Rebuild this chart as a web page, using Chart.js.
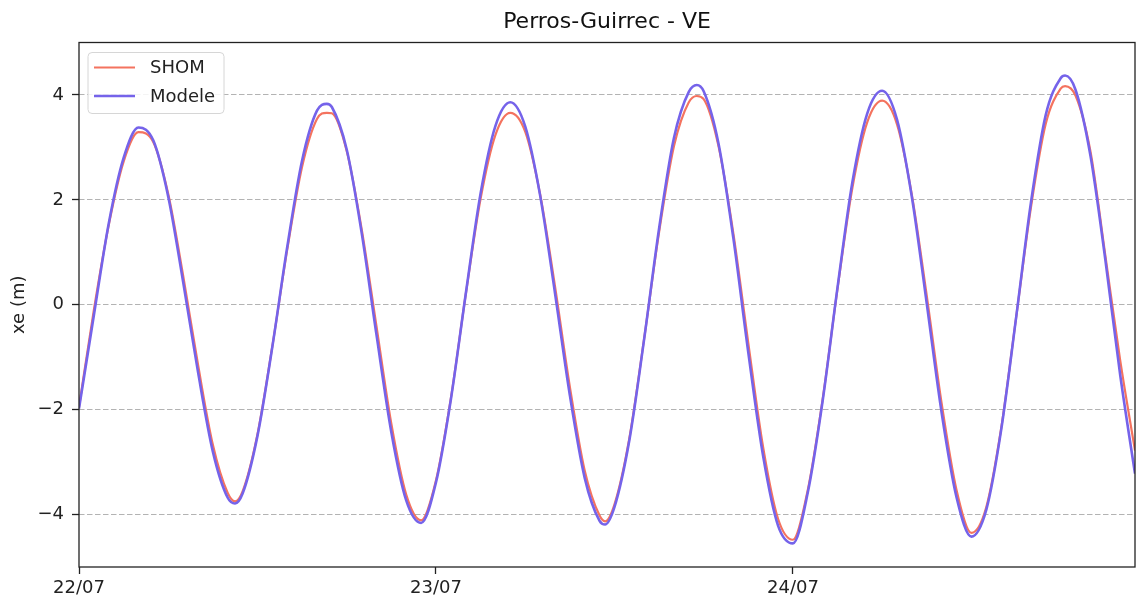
<!DOCTYPE html>
<html>
<head>
<meta charset="utf-8">
<title>Perros-Guirrec - VE</title>
<script src="https://cdn.jsdelivr.net/npm/chart.js@4.4.1/dist/chart.umd.min.js"></script>
<style>
  html, body { margin: 0; padding: 0; background: #ffffff; }
  #wrap { width: 1138px; height: 602px; }
</style>
</head>
<body>
<div id="wrap"><canvas id="c" width="1138" height="602"></canvas></div>
<script>
// Time in hours since 22/07 00:00
const hours = [
  0, 1, 2, 3, 4, 5, 6, 7, 8, 9, 10, 10.49, 11, 12, 13, 14, 15, 16, 16.66, 17,
  18, 19, 20, 21, 22, 23, 24, 25, 26, 27, 28, 29, 30, 31, 32, 33, 34, 35, 35.37, 36,
  37, 38, 39, 40, 41, 41.54, 42, 43, 44, 45, 46, 47, 48, 49, 50, 51, 52, 53, 54, 55,
  56, 57, 58, 59, 60, 61, 62, 63, 64, 65, 66, 66.3, 67, 68, 69, 70, 71
];

// Water level (m), SHOM reference
const shom = [
  -1.95, -0.10, 1.52, 2.73, 3.29, 3.10, 2.11, 0.56, -1.14, -2.67, -3.59, -3.75, -3.56, -2.47, -0.79, 1.05, 2.63, 3.54, 3.66, 3.65,
  2.93, 1.45, -0.41, -2.27, -3.62, -4.11, -3.35, -1.79, 0.19, 2.02, 3.24, 3.66, 3.30, 2.11, 0.36, -1.56, -3.16, -4.02, -4.13, -3.81,
  -2.55, -0.64, 1.38, 3.02, 3.86, 3.98, 3.92, 3.02, 1.35, -0.73, -2.72, -4.08, -4.48, -3.53, -1.80, 0.31, 2.23, 3.48, 3.89, 3.44,
  2.09, 0.17, -1.88, -3.53, -4.35, -3.86, -2.36, -0.26, 1.85, 3.45, 4.12, 4.17, 3.99, 2.93, 0.95, -1.05, -2.78
];

// Water level (m), model output
const modele = [
  -1.98, -0.20, 1.55, 2.80, 3.38, 3.13, 2.06, 0.44, -1.28, -2.80, -3.68, -3.79, -3.60, -2.50, -0.80, 1.10, 2.75, 3.70, 3.83, 3.77,
  2.96, 1.38, -0.57, -2.43, -3.73, -4.16, -3.39, -1.81, 0.20, 2.12, 3.41, 3.86, 3.40, 2.09, 0.23, -1.72, -3.30, -4.12, -4.19, -3.86,
  -2.59, -0.65, 1.45, 3.18, 4.06, 4.19, 4.07, 3.07, 1.26, -0.91, -2.89, -4.21, -4.55, -3.58, -1.83, 0.33, 2.34, 3.65, 4.08, 3.53,
  2.05, 0.02, -2.06, -3.67, -4.42, -3.91, -2.39, -0.26, 1.94, 3.62, 4.32, 4.37, 4.10, 2.85, 0.87, -1.33, -3.22
];

const dayTicks = [0, 24, 48];
const dayLabels = ['22/07', '23/07', '24/07'];
const levelTicks = [-4, -2, 0, 2, 4];
const chartTitle = 'Perros-Guirrec - VE';

const FONT = "'DejaVu Sans', sans-serif";
const COLOR_SHOM = '#f4735f';
const COLOR_MODELE = '#7563ea';

const toPoints = (ys) => hours.map((h, i) => ({ x: h, y: ys[i] }));
const fmtNum = (v) => (v < 0 ? '\u2212' + Math.abs(v) : String(v));

// Box around the plotting area and the title centred above it
const frame = {
  id: 'frame',
  afterDatasetsDraw(chart) {
    const { ctx, chartArea: a } = chart;
    ctx.save();
    ctx.strokeStyle = '#222';
    ctx.lineWidth = 1.3;
    ctx.strokeRect(a.left, a.top, a.right - a.left, a.bottom - a.top);
    ctx.fillStyle = '#111';
    ctx.font = '22px ' + FONT;
    ctx.textAlign = 'center';
    ctx.textBaseline = 'middle';
    ctx.fillText(chartTitle, (a.left + a.right) / 2, a.top - 20);
    ctx.restore();
  }
};

// Legend drawn inside the upper-left corner of the plotting area
const insideLegend = {
  id: 'insideLegend',
  afterDraw(chart) {
    const { ctx, chartArea: a } = chart;
    const x0 = a.left + 9, y0 = a.top + 10, w = 136, h = 61;
    ctx.save();
    ctx.beginPath();
    ctx.roundRect(x0, y0, w, h, 4);
    ctx.fillStyle = 'rgba(255,255,255,0.85)';
    ctx.fill();
    ctx.strokeStyle = '#d6d6d6';
    ctx.lineWidth = 1;
    ctx.stroke();
    ctx.font = '18px ' + FONT;
    ctx.textBaseline = 'middle';
    ctx.fillStyle = '#222';
    const rowH = 28.5;
    chart.data.datasets.forEach((ds, i) => {
      const y = y0 + 15 + i * rowH;
      ctx.strokeStyle = ds.borderColor;
      ctx.lineWidth = ds.borderWidth;
      ctx.beginPath();
      ctx.moveTo(x0 + 6, y);
      ctx.lineTo(x0 + 47, y);
      ctx.stroke();
      ctx.fillText(ds.label, x0 + 62, y + 1);
    });
    ctx.restore();
  }
};

new Chart(document.getElementById('c'), {
  type: 'line',
  data: {
    datasets: [
      {
        label: 'SHOM',
        data: toPoints(shom),
        borderColor: COLOR_SHOM,
        borderWidth: 2.2,
        pointRadius: 0,
        cubicInterpolationMode: 'monotone',
        order: 2
      },
      {
        label: 'Modele',
        data: toPoints(modele),
        borderColor: COLOR_MODELE,
        borderWidth: 2.6,
        pointRadius: 0,
        cubicInterpolationMode: 'monotone',
        order: 1
      }
    ]
  },
  options: {
    responsive: false,
    animation: false,
    devicePixelRatio: 1,
    layout: { padding: { left: 0, right: 3, top: 42.5, bottom: 0 } },
    plugins: {
      legend: { display: false },
      tooltip: { enabled: false },
      title: { display: false }
    },
    scales: {
      x: {
        type: 'linear',
        min: 0,
        max: 71,
        afterBuildTicks(scale) { scale.ticks = dayTicks.map(v => ({ value: v })); },
        afterFit(scale) { scale.height = 35; },
        ticks: {
          autoSkip: false,
          maxRotation: 0,
          padding: 4,
          color: '#222',
          font: { family: FONT, size: 18 },
          callback: (v) => dayLabels[dayTicks.indexOf(v)]
        },
        grid: { drawOnChartArea: false, drawTicks: true, tickLength: 7, tickColor: '#222', tickWidth: 1.3 },
        border: { display: false }
      },
      y: {
        min: -5,
        max: 5,
        afterBuildTicks(scale) { scale.ticks = levelTicks.map(v => ({ value: v })); },
        afterFit(scale) { scale.width = 79; },
        title: {
          display: true,
          text: 'xe (m)',
          color: '#222',
          font: { family: FONT, size: 18 },
          padding: { top: 9, bottom: 0 }
        },
        ticks: {
          padding: 8,
          color: '#222',
          font: { family: FONT, size: 18 },
          callback: (v) => fmtNum(v)
        },
        grid: { color: '#b3b3b3', lineWidth: 1, tickLength: 7, tickColor: '#222', tickWidth: 1.3, tickBorderDash: [] },
        border: { display: false, dash: [5.5, 2.5] }
      }
    }
  },
  plugins: [frame, insideLegend]
});
</script>
</body>
</html>
